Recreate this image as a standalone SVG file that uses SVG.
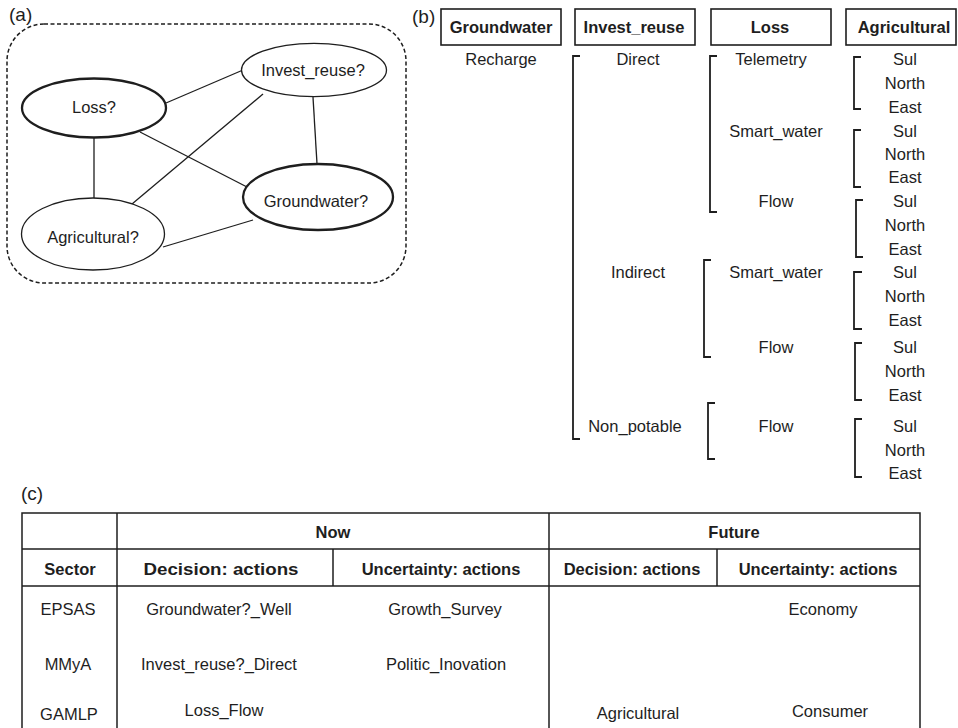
<svg xmlns="http://www.w3.org/2000/svg" width="958" height="728" viewBox="0 0 958 728">
<style>
text{font-family:"Liberation Sans",Arial,sans-serif;fill:#1e1e1e;font-size:16.5px}
.c{text-anchor:middle}
.b{font-weight:bold}
.lab{font-size:19px}
.thin{fill:#fff;stroke:#1e1e1e;stroke-width:1.3}
.bold{fill:#fff;stroke:#1e1e1e;stroke-width:2.3}
.edge{stroke:#1e1e1e;stroke-width:1.3;fill:none}
.br{stroke:#1e1e1e;stroke-width:1.8;fill:none}
.box{fill:#fff;stroke:#1e1e1e;stroke-width:1.6}
.tl{stroke:#1e1e1e;stroke-width:1.5;fill:none}
</style>
<rect width="958" height="728" fill="#fff"/>

<!-- Panel (a) -->
<text class="lab" x="9" y="21">(a)</text>
<rect x="7" y="24" width="399" height="259" rx="37" ry="37" fill="none" stroke="#1e1e1e" stroke-width="1.5" stroke-dasharray="4 2.5"/>
<g id="connectors">
<line class="edge" x1="166" y1="103" x2="243" y2="70"/>
<line class="edge" x1="94" y1="138" x2="94" y2="199"/>
<line class="edge" x1="140" y1="132" x2="247" y2="187"/>
<line class="edge" x1="132" y1="204" x2="263" y2="94"/>
<line class="edge" x1="313" y1="97" x2="317" y2="164"/>
<line class="edge" x1="163" y1="247" x2="253" y2="220"/>
</g>
<g id="node-loss">
<ellipse class="bold" cx="94" cy="108" rx="72" ry="29.5"/>
<text class="c" x="94" y="113">Loss?</text>
</g>
<g id="node-invest">
<ellipse class="thin" cx="314" cy="70" rx="72.5" ry="26.7"/>
<text class="c" x="313" y="76">Invest_reuse?</text>
</g>
<g id="node-groundwater">
<ellipse class="bold" cx="318" cy="197" rx="75" ry="33"/>
<text class="c" x="316" y="207">Groundwater?</text>
</g>
<g id="node-agricultural">
<ellipse class="thin" cx="93" cy="234" rx="71.5" ry="36"/>
<text class="c" x="93" y="243">Agricultural?</text>
</g>

<!-- Panel (b) -->
<g id="panel-b">
<text class="lab" x="412" y="23">(b)</text>
<rect class="box" x="441" y="9" width="120" height="36"/>
<text class="c b" x="501" y="33">Groundwater</text>
<rect class="box" x="575" y="9" width="120" height="36"/>
<text class="c b" x="634" y="33">Invest_reuse</text>
<rect class="box" x="711" y="9" width="120" height="36"/>
<text class="c b" x="770" y="33">Loss</text>
<rect class="box" x="846" y="9" width="110" height="36"/>
<text class="c b" x="904" y="33">Agricultural</text>

<text class="c" x="501" y="65">Recharge</text>

<path class="br" d="M580,56 H573 V439 H580"/>
<text class="c" x="638" y="65">Direct</text>
<text class="c" x="638" y="278">Indirect</text>
<text class="c" x="635" y="432">Non_potable</text>

<path class="br" d="M717,56 H710 V212 H717"/>
<path class="br" d="M711,260 H704 V357 H711"/>
<path class="br" d="M715,403 H708 V459 H715"/>
<text class="c" x="771" y="65">Telemetry</text>
<text class="c" x="776" y="137">Smart_water</text>
<text class="c" x="776" y="207">Flow</text>
<text class="c" x="776" y="278">Smart_water</text>
<text class="c" x="776" y="353">Flow</text>
<text class="c" x="776" y="432">Flow</text>

<path class="br" d="M861,57 H854 V109 H861"/>
<path class="br" d="M861,130 H854 V187 H861"/>
<path class="br" d="M863,200 H856 V257 H863"/>
<path class="br" d="M862,272 H854 V329 H862"/>
<path class="br" d="M862,343 H855 V400 H862"/>
<path class="br" d="M862,419 H855 V477 H862"/>
<text class="c" x="905" y="65">Sul</text>
<text class="c" x="905" y="89">North</text>
<text class="c" x="905" y="113">East</text>
<text class="c" x="905" y="137">Sul</text>
<text class="c" x="905" y="160">North</text>
<text class="c" x="905" y="183">East</text>
<text class="c" x="905" y="207">Sul</text>
<text class="c" x="905" y="231">North</text>
<text class="c" x="905" y="255">East</text>
<text class="c" x="905" y="278">Sul</text>
<text class="c" x="905" y="302">North</text>
<text class="c" x="905" y="326">East</text>
<text class="c" x="905" y="353">Sul</text>
<text class="c" x="905" y="377">North</text>
<text class="c" x="905" y="401">East</text>
<text class="c" x="905" y="432">Sul</text>
<text class="c" x="905" y="456">North</text>
<text class="c" x="905" y="479">East</text>
</g>

<!-- Panel (c) -->
<g id="panel-c">
<text class="lab" x="21" y="500">(c)</text>
<path class="tl" d="M22,728 V513 H920 V728"/>
<line class="tl" x1="22" y1="549" x2="920" y2="549"/>
<line class="tl" x1="22" y1="586" x2="920" y2="586"/>
<line class="tl" x1="117" y1="513" x2="117" y2="728"/>
<line class="tl" x1="549" y1="513" x2="549" y2="728"/>
<line class="tl" x1="333" y1="549" x2="333" y2="586"/>
<line class="tl" x1="717" y1="549" x2="717" y2="586"/>

<text class="c b" x="333" y="538">Now</text>
<text class="c b" x="734" y="538">Future</text>
<text class="c b" x="70" y="575">Sector</text>
<text class="c b" x="221" y="575" textLength="155" lengthAdjust="spacingAndGlyphs">Decision: actions</text>
<text class="c b" x="441" y="575">Uncertainty: actions</text>
<text class="c b" x="632" y="575">Decision: actions</text>
<text class="c b" x="818" y="575">Uncertainty: actions</text>

<text class="c" x="68" y="615">EPSAS</text>
<text class="c" x="68" y="670">MMyA</text>
<text class="c" x="69" y="720">GAMLP</text>
<text class="c" x="219" y="615">Groundwater?_Well</text>
<text class="c" x="219" y="670">Invest_reuse?_Direct</text>
<text class="c" x="224" y="716">Loss_Flow</text>
<text class="c" x="445" y="615">Growth_Survey</text>
<text class="c" x="446" y="670">Politic_Inovation</text>
<text class="c" x="823" y="615">Economy</text>
<text class="c" x="638" y="719">Agricultural</text>
<text class="c" x="830" y="717">Consumer</text>
</g>
</svg>
